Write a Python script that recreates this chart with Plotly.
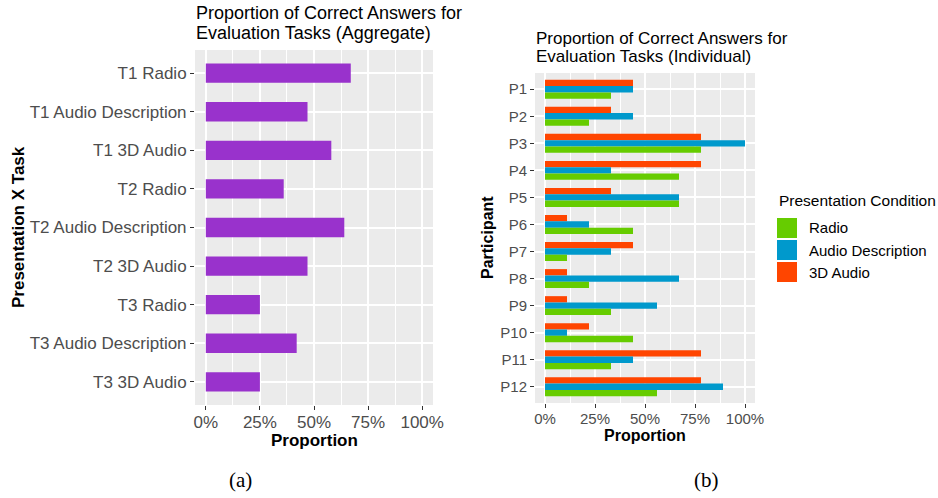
import plotly.graph_objects as go

# ---------------- data ----------------
tasks = ["T1 Radio", "T1 Audio Description", "T1 3D Audio",
         "T2 Radio", "T2 Audio Description", "T2 3D Audio",
         "T3 Radio", "T3 Audio Description", "T3 3D Audio"]
task_props = [0.67, 0.47, 0.58, 0.36, 0.64, 0.47, 0.25, 0.42, 0.25]

participants = ["P1", "P2", "P3", "P4", "P5", "P6",
                "P7", "P8", "P9", "P10", "P11", "P12"]
radio = [0.33, 0.22, 0.78, 0.67, 0.67, 0.44, 0.11, 0.22, 0.33, 0.44, 0.33, 0.56]
audio_desc = [0.44, 0.44, 1.00, 0.33, 0.67, 0.22, 0.33, 0.67, 0.56, 0.11, 0.44, 0.89]
audio_3d = [0.44, 0.33, 0.78, 0.78, 0.33, 0.11, 0.44, 0.11, 0.11, 0.22, 0.78, 0.78]

conditions = ["Radio", "Audio Description", "3D Audio"]
tick_vals = [0, 0.25, 0.5, 0.75, 1.0]
tick_text = ["0%", "25%", "50%", "75%", "100%"]

# ---------------- styling ----------------
W, H = 938, 498
FONT = "Liberation Sans, Arial, sans-serif"
SERIF = "Liberation Serif, DejaVu Serif, serif"
cond_colors = {"Radio": "#66CC00", "Audio Description": "#0099CC", "3D Audio": "#FF4500"}
cond_values = {"Radio": radio, "Audio Description": audio_desc, "3D Audio": audio_3d}


def px(x):
    return x / W


def py(y):
    return 1 - y / H


fig = go.Figure()

fig.add_trace(go.Bar(y=tasks, x=task_props, orientation="h",
                     marker=dict(color="#9932CC", line=dict(width=0)),
                     width=0.5, xaxis="x", yaxis="y", showlegend=False))

# top-to-bottom within each group: 3D Audio, Audio Description, Radio
for name in reversed(conditions):
    fig.add_trace(go.Bar(y=participants, x=cond_values[name], orientation="h",
                         name=name, marker=dict(color=cond_colors[name], line=dict(width=0)),
                         xaxis="x2", yaxis="y2", showlegend=False))


def xaxis_style(domain, anchor, size):
    return dict(domain=domain, anchor=anchor, range=[-0.05, 1.05], automargin=False,
                tickvals=tick_vals, ticktext=tick_text,
                tickfont=dict(family=FONT, size=size, color="#4D4D4D"),
                showgrid=True, gridcolor="white", gridwidth=1.8,
                minor=dict(dtick=0.125, tick0=0, showgrid=True, gridcolor="white", gridwidth=0.9),
                zeroline=False, showline=False, ticklabelstandoff=-2,
                ticks="outside", ticklen=4, tickcolor="#333333", tickwidth=1)


def yaxis_style(domain, anchor, size, n, cats):
    return dict(domain=domain, anchor=anchor, type="category", automargin=False,
                categoryorder="array", categoryarray=cats,
                range=[n - 1 + 0.6, -0.6],
                tickfont=dict(family=FONT, size=size, color="#4D4D4D"),
                showgrid=True, gridcolor="white", gridwidth=1.8,
                zeroline=False, showline=False,
                ticks="outside", ticklen=4, tickcolor="#333333", tickwidth=1)


fig.update_layout(
    width=W, height=H,
    margin=dict(l=0, r=0, t=0, b=0, autoexpand=False),
    paper_bgcolor="white", plot_bgcolor="#EBEBEB",
    barmode="group", bargap=0.3, bargroupgap=0,
    font=dict(family=FONT),
    xaxis=xaxis_style([px(195), px(433)], "y", 17),
    yaxis=yaxis_style([py(405), py(50)], "x", 17, len(tasks), tasks),
    xaxis2=xaxis_style([px(535), px(755)], "y2", 15),
    yaxis2=yaxis_style([py(403), py(73)], "x2", 15, len(participants), participants),
)

ann = []


def text(x, y, s, size, color="black", xanchor="left", angle=0, family=FONT, bold=False):
    ann.append(dict(x=px(x), y=py(y), xref="paper", yref="paper", text=(f"<b>{s}</b>" if bold else s),
                    showarrow=False, xanchor=xanchor, yanchor="middle", textangle=angle,
                    font=dict(family=family, size=size, color=color)))


# titles
text(194, 13, "Proportion of Correct Answers for", 18)
text(194, 33, "Evaluation Tasks (Aggregate)", 18)
text(534, 39, "Proportion of Correct Answers for", 17)
text(534, 57, "Evaluation Tasks (Individual)", 17)

# axis titles
text(314, 440, "Proportion", 17, xanchor="center", bold=True)
text(645, 435, "Proportion", 16, xanchor="center", bold=True)
text(18, 227, "Presentation X Task", 17, xanchor="center", angle=-90, bold=True)
text(488, 238, "Participant", 16, xanchor="center", angle=-90, bold=True)

# legend (custom, ggplot-like keys)
text(777, 200, "Presentation Condition", 15.5)
shapes = []
for i, name in enumerate(conditions):
    cy = 228 + 22 * i
    shapes.append(dict(type="rect", xref="paper", yref="paper",
                       x0=px(777), x1=px(797), y0=py(cy + 10), y1=py(cy - 10),
                       fillcolor=cond_colors[name], line=dict(width=0)))
    text(807, cy, name, 15)

# captions
text(240, 480, "(a)", 21, xanchor="center", family=SERIF)
text(706, 480, "(b)", 21, xanchor="center", family=SERIF)

fig.update_layout(annotations=ann, shapes=shapes)
fig.write_html("out.html", config={"displayModeBar": False},
               post_script="document.body.style.margin='0px';")
